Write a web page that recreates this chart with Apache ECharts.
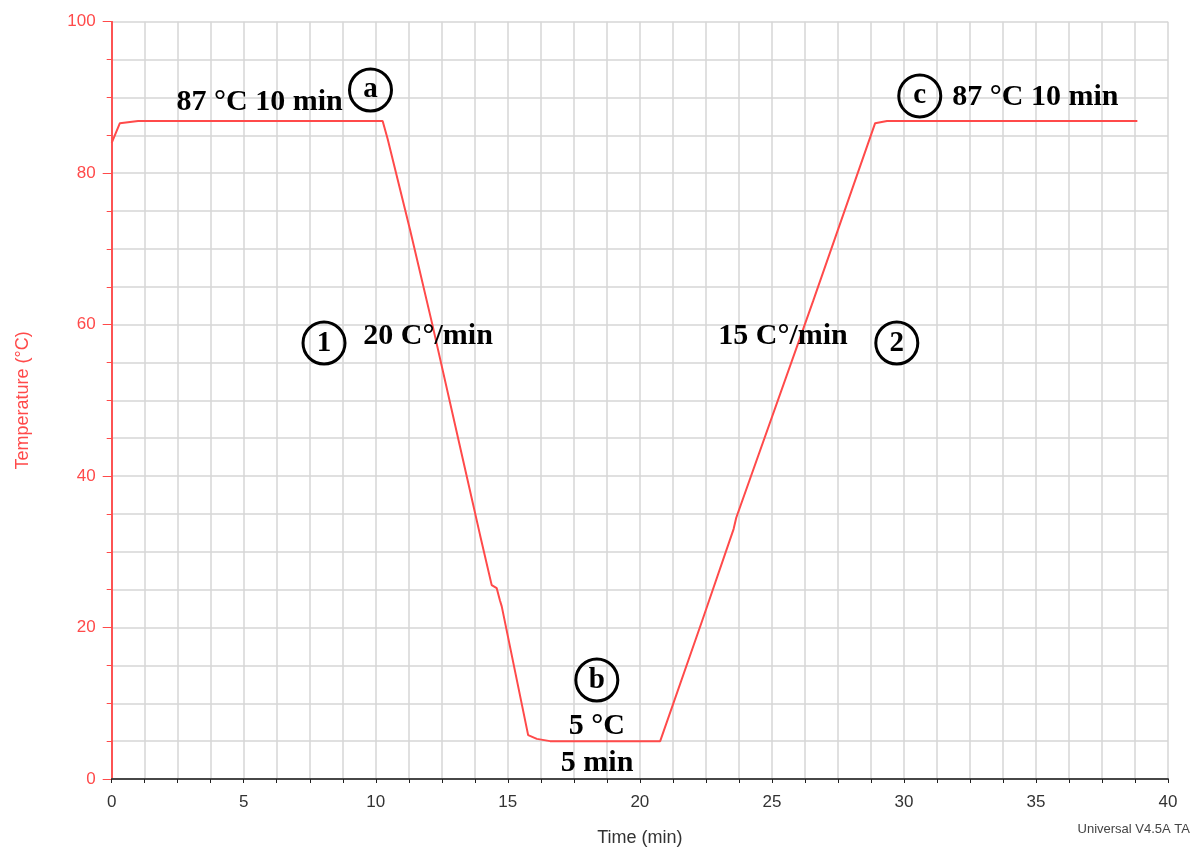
<!DOCTYPE html>
<html><head><meta charset="utf-8">
<script src="https://cdn.jsdelivr.net/npm/echarts@6/dist/echarts.min.js"></script>
<style>html,body{margin:0;padding:0;background:#fff}#c{width:1194px;height:849px}</style>
</head><body><div id="c"></div>
<script>
// Data
const timeMin = [0, 0.31, 1.0, 10.26, 10.45, 11.3, 12.13, 13.3, 13.95, 14.39, 14.58, 14.7, 14.77, 15.77, 16.1, 16.6, 20.77, 22.35, 23.55, 23.65, 26.56, 28.91, 29.36, 38.84];
const tempC = [84, 86.6, 86.9, 86.9, 84.5, 72.5, 60.2, 42.2, 32.2, 25.6, 25.2, 23.6, 22.8, 5.8, 5.3, 5.0, 5.0, 20.8, 33.0, 34.5, 63.1, 86.6, 86.9, 86.9];
const xTickLabels = [0, 5, 10, 15, 20, 25, 30, 35, 40];
const yTickLabels = [0, 20, 40, 60, 80, 100];
// Annotations (data coordinates)
const circleLabels = ['a', '1', '2', 'b', 'c'];
const circleX = [9.80, 8.04, 29.73, 18.37, 30.60];
const circleY = [90.98, 57.57, 57.57, 13.07, 90.2];
const noteTexts = ['87 °C 10 min', '20 C°/min', '15 C°/min', '5 °C', '5 min', '87 °C 10 min'];
const noteX = [5.60, 11.98, 25.42, 18.37, 18.38, 34.98];
const noteY = [89.3, 58.4, 58.4, 6.9, 2.1, 90.0];

const RED = '#ff4a4a';
const GRID = '#d6d6d6';
const serif = '"Liberation Serif", "Times New Roman", serif';
const sans = '"Liberation Sans", Arial, Helvetica, sans-serif';

const chart = echarts.init(document.getElementById('c'), null, {renderer: 'canvas'});
chart.setOption({
  animation: false,
  backgroundColor: '#fff',
  grid: {left: 111.7, right: 26, top: 21.7, bottom: 70, containLabel: false, outerBoundsMode: 'none'},
  xAxis: [{
    type: 'value', min: 0, max: 40, interval: 5,
    name: 'Time (min)', nameLocation: 'middle', nameGap: 50,
    nameTextStyle: {color: '#333', fontFamily: sans, fontSize: 18},
    axisLine: {lineStyle: {color: '#222', width: 1.5}},
    axisTick: {show: true, length: 4, lineStyle: {color: '#222'}},
    minorTick: {show: true, splitNumber: 4, length: 4, lineStyle: {color: '#222'}},
    axisLabel: {color: '#333', fontFamily: sans, fontSize: 17, margin: 15,
      formatter: v => xTickLabels.includes(v) ? String(v) : ''},
    splitLine: {show: true, lineStyle: {color: GRID, width: 1.5}},
    minorSplitLine: {show: true, lineStyle: {color: GRID, width: 1.5}}
  }, {
    type: 'value', min: 0, max: 40, position: 'top',
    axisLine: {show: true, lineStyle: {color: '#444', width: 1.5}},
    axisTick: {show: false}, axisLabel: {show: false}, splitLine: {show: false}
  }],
  yAxis: [{
    type: 'value', min: 0, max: 100, interval: 20,
    name: 'Temperature (°C)', nameLocation: 'middle', nameGap: 80,
    nameTextStyle: {color: RED, fontFamily: sans, fontSize: 18},
    axisLine: {show: true, lineStyle: {color: RED, width: 1.5}},
    axisTick: {show: true, length: 9, lineStyle: {color: RED}},
    minorTick: {show: true, splitNumber: 4, length: 5, lineStyle: {color: RED}},
    axisLabel: {color: RED, fontFamily: sans, fontSize: 17, margin: 16,
      formatter: v => yTickLabels.includes(v) ? String(v) : ''},
    splitLine: {show: true, lineStyle: {color: GRID, width: 1.5}},
    minorSplitLine: {show: true, lineStyle: {color: GRID, width: 1.5}}
  }, {
    type: 'value', min: 0, max: 100, position: 'right',
    axisLine: {show: true, lineStyle: {color: RED, width: 1.5}},
    axisTick: {show: false}, axisLabel: {show: false}, splitLine: {show: false}
  }],
  graphic: [{
    type: 'text', right: 4, top: 823,
    style: {text: 'Universal V4.5A TA', fill: '#444', font: '13px ' + sans}
  }],
  series: [{
    type: 'line', xAxisIndex: 0, yAxisIndex: 0,
    data: timeMin.map((t, i) => [t, tempC[i]]),
    showSymbol: false, lineStyle: {color: RED, width: 2}, z: 3
  }, {
    type: 'scatter', xAxisIndex: 0, yAxisIndex: 0,
    data: circleX.map((x, i) => [x, circleY[i]]),
    symbol: 'circle', symbolSize: 42,
    itemStyle: {color: 'rgba(255,255,255,0)', borderColor: '#000000', borderWidth: 3, opacity: 1},
    label: {show: true, position: 'inside', color: '#000000', textBorderWidth: 0, fontFamily: serif, fontWeight: 'bold', fontSize: 29,
      formatter: p => circleLabels[p.dataIndex]},
    emphasis: {disabled: true},
    z: 5
  }, {
    type: 'scatter', xAxisIndex: 0, yAxisIndex: 0,
    data: noteX.map((x, i) => [x, noteY[i]]),
    symbolSize: 0,
    itemStyle: {opacity: 1},
    label: {show: true, position: 'inside', color: '#000000', textBorderWidth: 0, fontFamily: serif, fontWeight: 'bold', fontSize: 30,
      formatter: p => noteTexts[p.dataIndex]},
    emphasis: {disabled: true},
    z: 5
  }]
});
</script></body></html>
